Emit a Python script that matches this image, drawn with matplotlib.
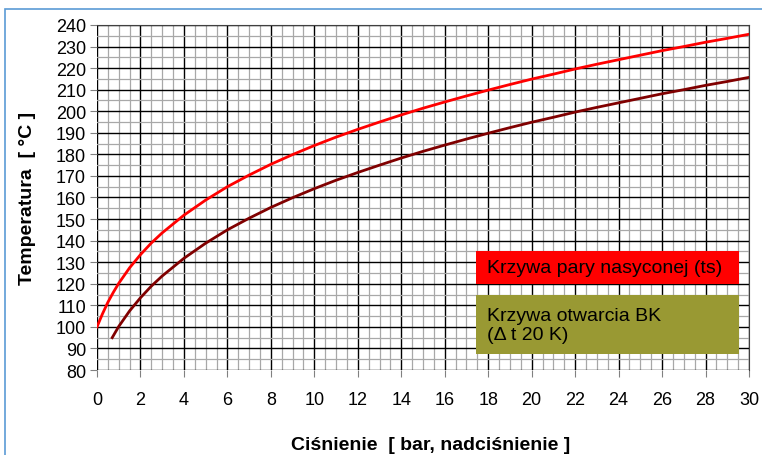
import matplotlib.pyplot as plt
from matplotlib.patches import Rectangle
from matplotlib.ticker import MultipleLocator

plt.rcParams["font.family"] = ["Liberation Sans", "DejaVu Sans"]

# saturated steam curve (ts)
sat_pressure = [0, 0.25, 0.5, 0.75, 1, 1.5, 2, 2.5, 3, 4, 5, 6, 7, 8, 9, 10, 11, 12, 13, 14, 15,
                16, 17, 18, 19, 20, 21, 22, 23, 24, 25, 26, 27, 28, 29, 30]
sat_temp = [100, 106.0, 111.4, 116.0, 120.2, 127.4, 133.5, 138.9, 143.6, 151.8, 158.8, 165.0,
            170.4, 175.4, 179.9, 184.1, 188.0, 191.6, 195.0, 198.3, 201.4, 204.3, 207.1, 209.8,
            212.4, 214.9, 217.2, 219.6, 221.8, 223.9, 226.0, 228.1, 230.0, 232.0, 233.8, 235.7]

# BK opening curve (dt 20 K)
bk_pressure = [0.7, 1, 1.5, 2, 2.5, 3, 4, 5, 6, 7, 8, 9, 10, 11, 12, 13, 14, 15, 16, 17, 18,
               19, 20, 21, 22, 23, 24, 25, 26, 27, 28, 29, 30]
bk_temp = [95, 100.2, 107.4, 113.5, 118.9, 123.6, 131.8, 138.8, 145.0, 150.4, 155.4, 159.9,
           164.1, 168.0, 171.6, 175.0, 178.3, 181.4, 184.3, 187.1, 189.8, 192.4, 194.9, 197.2,
           199.6, 201.8, 203.9, 206.0, 208.1, 210.0, 212.0, 213.8, 215.7]

sat_label = "Krzywa pary nasyconej (ts)"
bk_label = "Krzywa otwarcia BK\n(\u0394 t 20 K)"

fig = plt.figure(figsize=(7.62, 4.56), dpi=100)
ax = fig.add_axes([0.1273, 0.1864, 0.8556, 0.7566])

# light blue frame around the figure
fig.patches.append(Rectangle((5 / 762, -0.1), 1.2, 1 - 10 / 456 + 0.1, transform=fig.transFigure,
                             fill=False, edgecolor="#5b9bd5", linewidth=1.2))

ax.set_xlim(0, 30)
ax.set_ylim(80, 240)
ax.xaxis.set_major_locator(MultipleLocator(2))
ax.xaxis.set_minor_locator(MultipleLocator(0.5))
ax.yaxis.set_major_locator(MultipleLocator(10))
ax.yaxis.set_minor_locator(MultipleLocator(5))
ax.grid(which="minor", color="#a8a8a8", linewidth=0.9)
ax.grid(which="major", color="black", linewidth=1.0)
ax.set_axisbelow(True)
ax.tick_params(which="major", direction="out", length=5, width=0.8, color="#808080",
               labelsize=13, pad=3)
ax.tick_params(axis="x", pad=10)
ax.tick_params(which="minor", length=0)
for side in ["left", "bottom"]:
    ax.spines[side].set_visible(False)
for side in ["top", "right"]:
    ax.spines[side].set_color("#404040")

ax.plot(sat_pressure, sat_temp, color="#ff0000", linewidth=2)
ax.plot(bk_pressure, bk_temp, color="#800000", linewidth=2)

ax.add_patch(Rectangle((0.581, 0.249), 0.404, 0.096, transform=ax.transAxes,
                       facecolor="#ff0000", edgecolor="none", zorder=3))
ax.add_patch(Rectangle((0.582, 0.046), 0.403, 0.171, transform=ax.transAxes,
                       facecolor="#999933", edgecolor="none", zorder=3))
ax.text(0.598, 0.297, sat_label, transform=ax.transAxes, fontsize=14,
        va="center", ha="left", zorder=4)
ax.text(0.598, 0.131, bk_label, transform=ax.transAxes, fontsize=14,
        va="center", ha="left", linespacing=1.15, zorder=4)

ax.set_ylabel("Temperatura  [ \u00b0C ]", fontsize=14, fontweight="bold")
ax.yaxis.set_label_coords(-0.094, 0.5)
fig.text(0.565, 0.005, "Ci\u015bnienie  [ bar, nadci\u015bnienie ]", fontsize=14,
         fontweight="bold", ha="center", va="bottom")

fig.savefig("out.png", dpi=100)
